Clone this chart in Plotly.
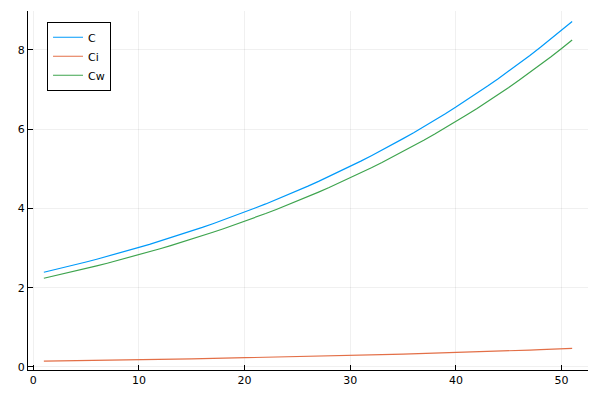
import plotly.graph_objects as go

x = list(range(1, 52))

C = [2.390, 2.452, 2.517, 2.583, 2.650, 2.720, 2.791, 2.865, 2.940, 3.017,
     3.095, 3.177, 3.260, 3.346, 3.433, 3.523, 3.616, 3.711, 3.808, 3.908,
     4.011, 4.115, 4.224, 4.335, 4.448, 4.564, 4.684, 4.807, 4.933, 5.063,
     5.195, 5.332, 5.471, 5.615, 5.763, 5.913, 6.069, 6.228, 6.391, 6.559,
     6.731, 6.907, 7.089, 7.275, 7.465, 7.661, 7.862, 8.069, 8.280, 8.497,
     8.721]

Ci = [0.150, 0.153, 0.157, 0.161, 0.164, 0.168, 0.172, 0.176, 0.180, 0.184,
      0.188, 0.193, 0.197, 0.202, 0.206, 0.211, 0.216, 0.221, 0.226, 0.231,
      0.237, 0.242, 0.248, 0.254, 0.259, 0.265, 0.271, 0.278, 0.284, 0.291,
      0.297, 0.304, 0.311, 0.318, 0.326, 0.333, 0.341, 0.349, 0.357, 0.365,
      0.373, 0.382, 0.391, 0.400, 0.409, 0.418, 0.428, 0.438, 0.448, 0.458,
      0.469]

Cw = [2.240, 2.299, 2.360, 2.422, 2.486, 2.552, 2.619, 2.689, 2.760, 2.833,
      2.907, 2.984, 3.063, 3.144, 3.227, 3.312, 3.400, 3.490, 3.582, 3.677,
      3.774, 3.873, 3.976, 4.081, 4.189, 4.299, 4.413, 4.529, 4.649, 4.772,
      4.898, 5.028, 5.160, 5.297, 5.437, 5.580, 5.728, 5.879, 6.034, 6.194,
      6.358, 6.525, 6.698, 6.875, 7.056, 7.243, 7.434, 7.631, 7.832, 8.039,
      8.252]

names = ["C", "Ci", "Cw"]
series = [C, Ci, Cw]
colors = ["#009AFA", "#E36F47", "#3EA44E"]

fig = go.Figure()
for n, s, c in zip(names, series, colors):
    fig.add_trace(go.Scatter(x=x, y=s, mode="lines", name=n,
                             line=dict(color=c, width=1.2)))

axis_common = dict(
    showgrid=True, gridcolor="rgba(0,0,0,0.06)", gridwidth=0.5,
    zeroline=False, showline=True, linecolor="black", linewidth=1,
    ticks="inside", ticklen=5, tickcolor="black", tickwidth=1,
    tickfont=dict(size=11, color="black", family="DejaVu Sans"),
    mirror=False, automargin=False,
)

fig.update_layout(
    width=600, height=400,
    margin=dict(l=28, r=12, t=11, b=30),
    paper_bgcolor="white", plot_bgcolor="white",
    font=dict(family="DejaVu Sans", size=11, color="black"),
    xaxis=dict(range=[-0.5, 52.5], tickvals=[0, 10, 20, 30, 40, 50], **axis_common),
    yaxis=dict(range=[-0.076, 8.984], tickvals=[0, 2, 4, 6, 8], **axis_common),
    legend=dict(x=0.034, y=0.97, xanchor="left", yanchor="top",
                bordercolor="black", borderwidth=1, bgcolor="white",
                font=dict(size=11, family="DejaVu Sans"),
                tracegroupgap=0, itemwidth=30),
    showlegend=True,
)

fig.write_html("out.html", config={"displayModeBar": False},
               post_script="document.body.style.margin='0';document.body.style.overflow='hidden';")
